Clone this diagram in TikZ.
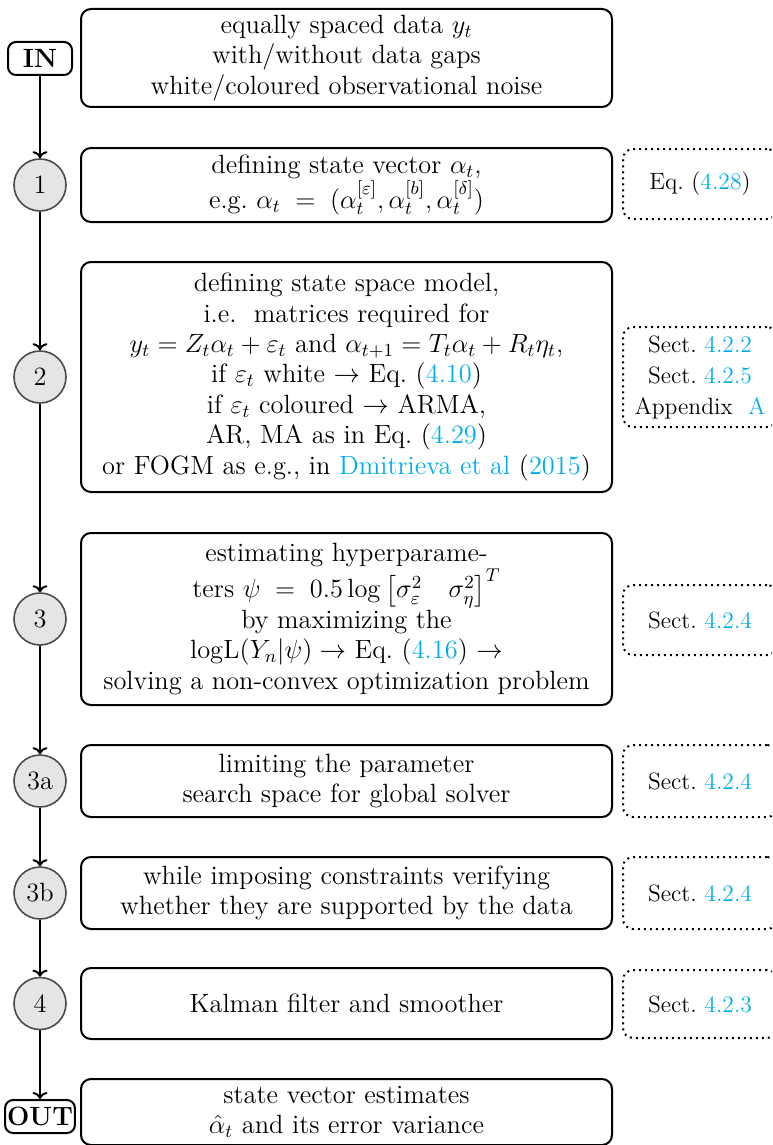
\RequirePackage{fix-cm}
\documentclass[tikz,border=0pt]{standalone}
\usepackage{amsmath,amssymb}
\usepackage{xcolor}
\usetikzlibrary{positioning,arrows.meta}
\definecolor{linkblue}{RGB}{0,174,239}
\newcommand{\reflink}[1]{\textcolor{linkblue}{#1}}

\begin{document}
\begin{tikzpicture}[x=0.5pt, y=-0.5pt,
    every node/.style={font=\fontsize{13.2}{15.2}\selectfont, align=center},
    mainbox/.style={draw, line width=1pt, rounded corners=5pt, minimum width=265.5pt, inner sep=2pt},
    stepnum/.style={circle, draw=black!70, fill=black!10, line width=0.8pt, minimum size=26pt, inner sep=0pt},
    iobox/.style={draw, line width=1pt, rounded corners=4pt, minimum width=32pt, minimum height=16.5pt, inner sep=1pt, font=\fontsize{13.2}{15.2}\selectfont\bfseries},
    refbox/.style={draw, dotted, line width=1pt, rounded corners=5pt, minimum width=77pt, anchor=west, font=\fontsize{11.8}{15.5}\selectfont},
    flow/.style={-{To[length=3.5pt,width=7.5pt]}, line width=1pt}]
\useasboundingbox (0,0) rectangle (772,1145);
\clip (0,0) rectangle (772,1145);

% input
\node[iobox] (in) at (40,58.5) {IN};
\node[mainbox, minimum height=49pt] (b0) at (346.5,58) {equally spaced data $y_t$\\ with/without data gaps\\ white/coloured observational noise};

% step 1
\node[stepnum] (s1) at (40,185) {1};
\node[mainbox, minimum height=37pt] (b1) at (346.5,185) {defining state vector $\alpha_t$,\\ e.g.\ $\alpha_t\;=\;(\alpha_t^{[\varepsilon]},\alpha_t^{[b]},\alpha_t^{[\delta]})$};
\node[refbox, minimum height=35pt] (r1) at (622,184) {Eq.~(\reflink{4.28})};

% step 2
\node[stepnum] (s2) at (40,377) {2};
\node[mainbox, minimum height=115pt] (b2) at (346.5,377) {defining state space model,\\ i.e.\ \ matrices required for\\ $y_t = Z_t\alpha_t + \varepsilon_t$ and $\alpha_{t+1} = T_t\alpha_t + R_t\eta_t$,\\ if $\varepsilon_t$ white $\rightarrow$ Eq.~(\reflink{4.10})\\ if $\varepsilon_t$ coloured $\rightarrow$ ARMA,\\ AR, MA as in Eq.~(\reflink{4.29})\\ or FOGM as e.g., in \reflink{Dmitrieva et al} (\reflink{2015})};
\node[refbox, minimum height=50pt] (r2) at (622,377) {Sect.~\reflink{4.2.2}\\ Sect.~\reflink{4.2.5}\\ Appendix~~\reflink{A}};

% step 3
\node[stepnum] (s3) at (40,619) {3};
\node[mainbox, minimum height=86pt] (b3) at (346.5,619) {estimating hyperparame-\\ ters $\psi\;=\;0.5\log\left[\sigma_\varepsilon^2\quad\sigma_\eta^2\right]^T$\\ by maximizing the\\ $\log\!\mathrm{L}(Y_n|\psi)\rightarrow$ Eq.~(\reflink{4.16}) $\rightarrow$\\ solving a non-convex optimization problem};
\node[refbox, minimum height=35pt] (r3) at (622,620) {Sect.~\reflink{4.2.4}};

% step 3a
\node[stepnum] (s3a) at (40,781) {3a};
\node[mainbox, minimum height=36pt] (b3a) at (346.5,781) {limiting the parameter\\ search space for global solver};
\node[refbox, minimum height=36pt] (r3a) at (622,781) {Sect.~\reflink{4.2.4}};

% step 3b
\node[stepnum] (s3b) at (40,893) {3b};
\node[mainbox, minimum height=36pt] (b3b) at (346.5,893) {while imposing constraints verifying\\ whether they are supported by the data};
\node[refbox, minimum height=36pt] (r3b) at (622,893) {Sect.~\reflink{4.2.4}};

% step 4
\node[stepnum] (s4) at (40,1003.5) {4};
\node[mainbox, minimum height=35.5pt] (b4) at (346.5,1003.5) {Kalman filter and smoother};
\node[refbox, minimum height=34pt] (r4) at (622,1004) {Sect.~\reflink{4.2.3}};

% output
\node[iobox] (out) at (40,1116.5) {OUT};
\node[mainbox, minimum height=33pt] (bout) at (346.5,1112) {state vector estimates\\ $\hat{\alpha}_t$ and its error variance};

\foreach \a/\b in {in/s1, s1/s2, s2/s3, s3/s3a, s3a/s3b, s3b/s4, s4/out}
    \draw[flow] (\a) -- (\b);
\end{tikzpicture}
\end{document}
